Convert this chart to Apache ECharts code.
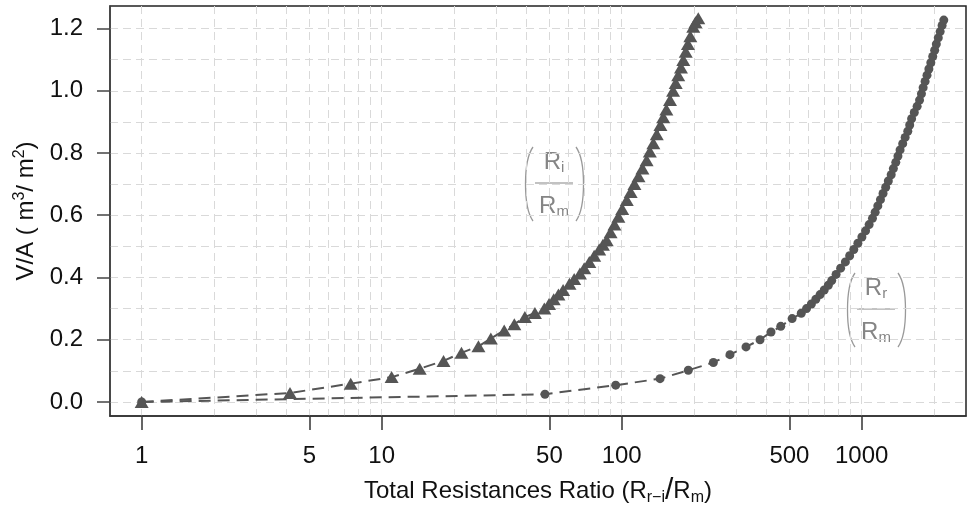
<!DOCTYPE html>
<html><head><meta charset="utf-8">
<script src="https://cdn.jsdelivr.net/npm/echarts@6/dist/echarts.min.js"></script>
<style>html,body{margin:0;padding:0;background:#fff}#c{width:968px;height:506px}</style>
</head><body><div id="c"></div>
<script>
// Ri/Rm series (triangles)
const triX = [1, 4.15, 7.43, 11.0, 14.4, 18.1, 21.5, 25.3, 28.5, 32.4, 35.7, 39.5, 43.5, 47.6, 49.8, 52.1, 54.5, 57.0, 60.6, 63.4, 67.0, 69.8, 73.3, 76.8, 80.6, 83.5, 86.6, 89.9, 93.3, 96.9, 100.5, 105, 109, 113, 117.5, 122, 127, 131, 135.5, 140, 145, 149, 153.5, 159, 163.7, 167.9, 172, 176.6, 180.6, 184.9, 188.8, 193.2, 198.7, 203, 208.5];
const triY = [0, 0.029, 0.059, 0.080, 0.107, 0.132, 0.158, 0.179, 0.204, 0.230, 0.250, 0.273, 0.286, 0.300, 0.315, 0.33, 0.345, 0.36, 0.38, 0.395, 0.413, 0.43, 0.45, 0.47, 0.49, 0.505, 0.52, 0.545, 0.57, 0.595, 0.62, 0.649, 0.675, 0.70, 0.725, 0.75, 0.777, 0.805, 0.831, 0.86, 0.89, 0.915, 0.94, 0.97, 1.0, 1.025, 1.05, 1.075, 1.099, 1.125, 1.15, 1.175, 1.206, 1.22, 1.233];
// Rr/Rm series (circles)
const cirX = [1, 47.9, 94.4, 144.5, 189.5, 241, 282.6, 329.6, 377, 419, 460, 513, 560, 589, 617, 644, 671, 698, 726, 750, 782, 817, 855, 891, 927, 964, 1002, 1038, 1074, 1109, 1138, 1167, 1197, 1227, 1259, 1291, 1327, 1355, 1387, 1416, 1445, 1482, 1517, 1556, 1585, 1614, 1656, 1702, 1742, 1774, 1803, 1837, 1871, 1905, 1941, 1977, 2014, 2046, 2085, 2123, 2163, 2198];
const cirY = [0, 0.025, 0.054, 0.075, 0.102, 0.127, 0.152, 0.177, 0.200, 0.225, 0.243, 0.268, 0.285, 0.30, 0.315, 0.33, 0.345, 0.36, 0.375, 0.39, 0.41, 0.43, 0.45, 0.47, 0.49, 0.51, 0.53, 0.55, 0.57, 0.59, 0.61, 0.63, 0.65, 0.67, 0.69, 0.71, 0.73, 0.75, 0.77, 0.79, 0.81, 0.83, 0.85, 0.87, 0.89, 0.91, 0.93, 0.95, 0.97, 0.99, 1.01, 1.03, 1.05, 1.07, 1.09, 1.11, 1.13, 1.15, 1.17, 1.19, 1.21, 1.227];

const xTickValues = [1, 5, 10, 50, 100, 500, 1000];
const xGridValues = [1, 2, 3, 4, 5, 6, 7, 8, 9, 10, 20, 30, 40, 50, 60, 70, 80, 90, 100, 200, 300, 400, 500, 600, 700, 800, 900, 1000, 2000];
const yTickValues = [0, 0.2, 0.4, 0.6, 0.8, 1.0, 1.2];
const yGridValues = [0, 0.1, 0.2, 0.3, 0.4, 0.5, 0.6, 0.7, 0.8, 0.9, 1.0, 1.1, 1.2];

const FONT = 'Liberation Sans';
const xMin = 0.738, xMax = 2720, yMin = -0.045, yMax = 1.2723;
const gridLine = { show: true, lineStyle: { color: '#d9d9d9', width: 1, type: [8, 5] } };
const markColor = '#555555';
const annoColor = '#858585';

const chart = echarts.init(document.getElementById('c'), null, { renderer: 'canvas' });

function pairs(xs, ys) { return xs.map((x, i) => [x, ys[i]]); }

function fracGroup(cx, cy, sub) {
  const lineY = cy;
  const rich = { s: { fontSize: 15, fontFamily: FONT, fill: annoColor, padding: [11, 0, 0, 0] } };
  return {
    type: 'group',
    children: [
      { type: 'text', style: { x: cx, y: lineY - 8, text: 'R{s|' + sub + '}', align: 'center', verticalAlign: 'bottom',
          font: '24px ' + FONT, fill: annoColor, rich: rich } },
      { type: 'line', shape: { x1: cx - 19, y1: lineY, x2: cx + 19, y2: lineY }, style: { stroke: annoColor, lineWidth: 1.2 } },
      { type: 'text', style: { x: cx, y: lineY + 36, text: 'R{s|m}', align: 'center', verticalAlign: 'bottom',
          font: '24px ' + FONT, fill: annoColor, rich: rich } },
      { type: 'bezierCurve', shape: { x1: cx - 21, y1: lineY - 36, x2: cx - 21, y2: lineY + 38, cpx1: cx - 31, cpy1: lineY - 22, cpx2: cx - 31, cpy2: lineY + 24 },
        style: { stroke: '#999', lineWidth: 1.3, fill: null } },
      { type: 'bezierCurve', shape: { x1: cx + 22, y1: lineY - 36, x2: cx + 22, y2: lineY + 38, cpx1: cx + 32, cpy1: lineY - 22, cpx2: cx + 32, cpy2: lineY + 24 },
        style: { stroke: '#999', lineWidth: 1.3, fill: null } }
    ]
  };
}

chart.setOption({
  animation: false,
  backgroundColor: '#ffffff',
  grid: { left: 110, right: 2, top: 6, bottom: 90, show: true, borderColor: '#222', borderWidth: 1.5,
          containLabel: false, outerBoundsMode: 'none' },
  xAxis: [
    {
      type: 'log', logBase: 10, min: xMin, max: xMax, position: 'bottom',
      axisLine: { show: true, onZero: false, lineStyle: { color: '#333', width: 1.5 } },
      axisTick: { show: true, length: 14, customValues: xTickValues, lineStyle: { color: '#333', width: 1.5 } },
      axisLabel: { customValues: xTickValues, formatter: v => String(v), margin: 28, fontSize: 24, color: '#111', fontFamily: FONT },
      splitLine: { show: false },
      name: 'Total Resistances Ratio (R{sub|r\u2212i}{sl|/}R{sub|m})',
      nameLocation: 'middle', nameGap: 60,
      nameTextStyle: { fontSize: 24, color: '#111', fontFamily: FONT,
        rich: { sub: { fontSize: 16, color: '#111', fontFamily: FONT, padding: [14, 0, 0, 0] },
                sl: { fontSize: 30, color: '#111', fontFamily: FONT } } }
    },
    {
      type: 'log', logBase: 10, min: xMin, max: xMax, position: 'bottom',
      axisLine: { show: false, onZero: false }, axisTick: { show: false, customValues: xGridValues },
      axisLabel: { show: false }, splitLine: gridLine
    }
  ],
  yAxis: [
    {
      type: 'value', min: yMin, max: yMax,
      axisLine: { show: true, onZero: false, lineStyle: { color: '#444', width: 1.5 } },
      axisTick: { show: true, length: 13, customValues: yTickValues, lineStyle: { color: '#444', width: 1.5 } },
      axisLabel: { customValues: yTickValues, formatter: v => v.toFixed(1), margin: 27, fontSize: 24, color: '#111', fontFamily: FONT },
      splitLine: { show: false },
      name: 'V/A ( m{sup|3}/ m{sup|2})', nameLocation: 'middle', nameGap: 60,
      nameTextStyle: { fontSize: 24, color: '#111', fontFamily: FONT,
        rich: { sup: { fontSize: 16, color: '#111', fontFamily: FONT, padding: [0, 0, 14, 0] } } }
    },
    {
      type: 'value', min: yMin, max: yMax, position: 'left',
      axisLine: { show: false, onZero: false }, axisTick: { show: false, customValues: yGridValues },
      axisLabel: { show: false }, splitLine: gridLine
    }
  ],
  series: [
    {
      name: 'Ri/Rm', type: 'line', xAxisIndex: 0, yAxisIndex: 0,
      data: pairs(triX, triY),
      symbol: 'triangle', symbolSize: [14, 12], showSymbol: true,
      itemStyle: { color: markColor },
      lineStyle: { color: markColor, width: 2, type: [12, 7] }
    },
    {
      name: 'Rr/Rm', type: 'line', xAxisIndex: 0, yAxisIndex: 0,
      data: pairs(cirX, cirY),
      symbol: 'circle', symbolSize: 9, showSymbol: true,
      itemStyle: { color: markColor },
      lineStyle: { color: markColor, width: 2, type: [12, 7] }
    }
  ],
  graphic: [ fracGroup(554, 183, 'i'), fracGroup(876, 309, 'r') ]
});
</script></body></html>
